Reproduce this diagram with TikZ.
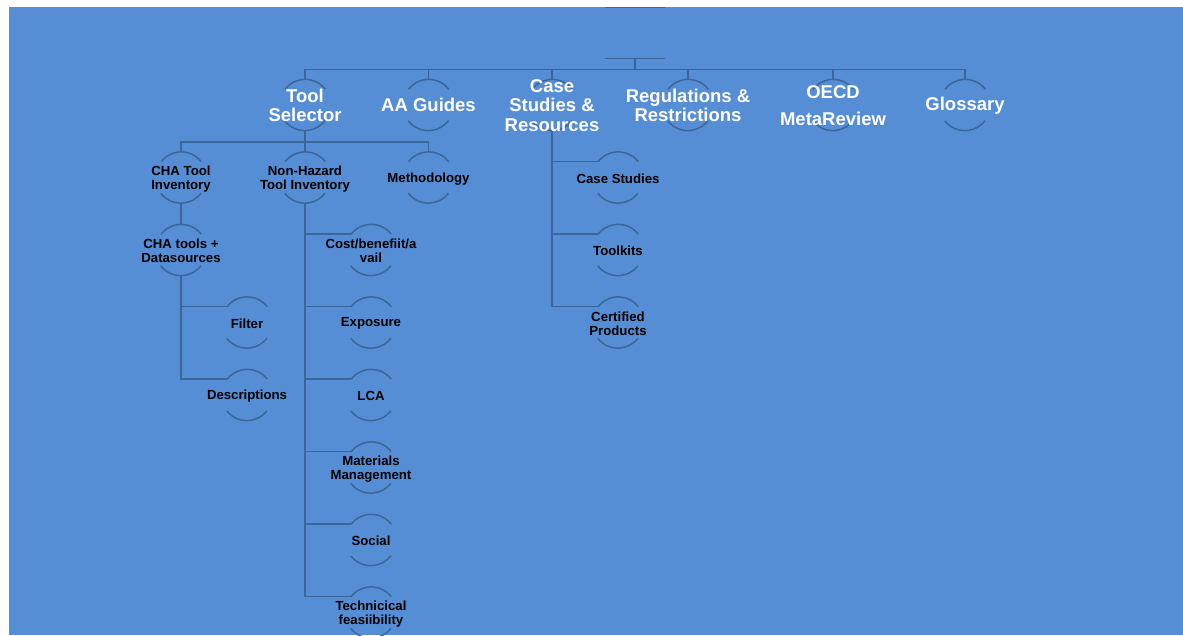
\documentclass[tikz,border=0pt]{standalone}
\usepackage{fontspec}
\setmainfont{Liberation Sans}
\usetikzlibrary{positioning,backgrounds}
\definecolor{chartblue}{RGB}{85,142,213}
\definecolor{linkblue}{RGB}{60,102,154}

\begin{document}
\begin{tikzpicture}[x=1pt,y=-1pt,on grid,node distance=72.5pt and 123.5pt,
	ring/.style={circle,inner sep=0pt,minimum size=51pt},
	top text/.style={align=center,text=white,yshift=-0.3pt,font=\bfseries\fontsize{18.5}{19.5}\selectfont},
	sub text/.style={align=center,text=black,yshift=-1.2pt,font=\bfseries\fontsize{13.2}{14}\selectfont},
	top node/.style={ring,label={[top text]center:{#1}}},
	sub node/.style={ring,label={[sub text]center:{#1}}},
	link/.style={draw=linkblue,line width=1.5pt}]

	\useasboundingbox (0,0) rectangle (1183,635);

	\node[minimum width=60pt,minimum height=51pt,inner sep=0pt] (1) at (635,33) {};
	\node[top node={Tool\\Selector}] (2) at (305,105) {};
	\node[top node={AA Guides}] (3) [right=of 2] {};
	\node[top node={Case\\Studies \&\\Resources}] (4) [right=of 3] {};
	\node[top node={Regulations \&\\Restrictions}] (5) [right=136pt of 4] {};
	\node[top node={OECD\\[7.5pt]MetaReview}] (6) [right=145pt of 5] {};
	\node[top node={Glossary}] (7) [right=132pt of 6] {};

	\node[sub node={CHA Tool\\Inventory}] (8) [below left=72.5pt and 124pt of 2] {};
	\node[sub node={Non-Hazard\\Tool Inventory}] (9) [below=of 2] {};
	\node[sub node={Methodology}] (10) [below=of 3] {};
	\node[sub node={CHA tools +\\Datasources}] (11) [below=of 8] {};
	\node[sub node={Filter}] (12) [below right=72.5pt and 66pt of 11] {};
	\node[sub node={Descriptions}] (13) [below=of 12] {};
	\node[sub node={Cost/benefiit/a\\vail}] (14) [below right=72.5pt and 66pt of 9] {};
	\node[sub node={Exposure}] (15) [below=of 14] {};
	\node[sub node={LCA}] (16) [below=of 15] {};
	\node[sub node={Materials\\Management}] (17) [below=of 16] {};
	\node[sub node={Social}] (18) [below=of 17] {};
	\node[sub node={Technicical\\feasiibility}] (19) [below=of 18] {};
	\node[sub node={Case Studies}] (20) [below right=72.5pt and 66pt of 4] {};
	\node[sub node={Toolkits}] (21) [below=of 20] {};
	\node[sub node={Certified\\Products}] (22) [below=of 21] {};

	\begin{scope}[on background layer]
		\fill[white] (0,0) rectangle (1183,635);
		\fill[chartblue] (9,7) rectangle (1183,635);

		\begin{scope}[y=1pt]
			\foreach \n in {2,...,22}
				\draw[link] (\n.38) arc[start angle=38,end angle=142,radius=25.5pt]
					(\n.218) arc[start angle=218,end angle=322,radius=25.5pt];
		\end{scope}

		\draw[link] (1.north west) -- (1.north east)
			(1.south west) -- (1.south east);
		\foreach \c in {2,...,7}
			\draw[link] (1.south) -- ++(0pt,-11pt) -| (\c.north);
		\foreach \c in {8,9,10}
			\draw[link] (2.south) -- ++(0pt,-11.5pt) -| (\c.north);
		\draw[link] (8.south) -- (11.north);
		\foreach \c in {12,13}
			\draw[link] (11.south) |- (\c.142);
		\foreach \c in {14,...,19}
			\draw[link] (9.south) |- (\c.142);
		\foreach \c in {20,21,22}
			\draw[link] (4.south) |- (\c.142);
	\end{scope}
\end{tikzpicture}
\end{document}
